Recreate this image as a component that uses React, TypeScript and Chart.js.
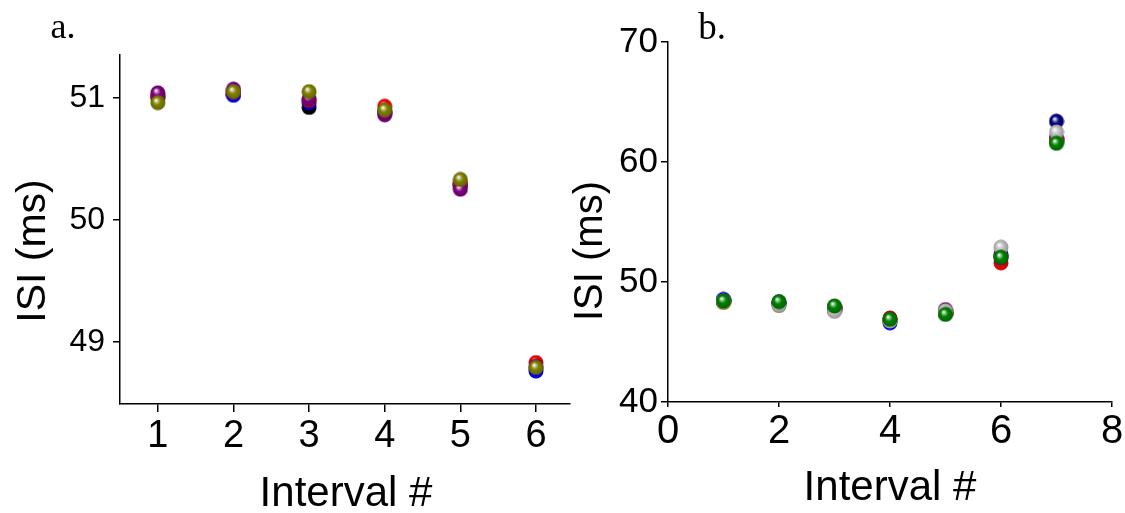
import React, { useEffect, useRef } from "react";
import { Chart, registerables } from "chart.js";
Chart.register(...registerables);

// ---------- Panel a data ----------
const intervalsA = [1, 2, 3, 4, 5, 6];
const blackA = [51.0, 51.03, 50.92, 50.88, 50.28, 48.78];
const blueA = [51.01, 51.02, 50.96, 50.88, 50.3, 48.76];
const redA = [51.02, 51.05, 50.98, 50.93, 50.29, 48.83];
const purpleA = [51.04, 51.07, 50.99, 50.86, 50.25, 48.8];
const oliveA = [50.96, 51.05, 51.05, 50.9, 50.33, 48.79];
const xTicksA = [1, 2, 3, 4, 5, 6];
const yTicksA = [49, 50, 51];

// ---------- Panel b data ----------
const intervalsB = [1, 2, 3, 4, 5, 6, 7];
const navyB = [48.5, 48.3, 47.9, 46.8, 47.5, 52.3, 63.4];
const blueB = [48.55, 48.3, 47.8, 46.6, 47.4, 52.2, 61.8];
const redB = [48.4, 48.2, 47.8, 47.0, 47.4, 51.6, 61.9];
const purpleB = [48.4, 48.2, 47.7, 46.9, 47.7, 52.0, 62.0];
const oliveB = [48.3, 48.05, 47.7, 46.8, 47.5, 52.1, 61.7];
const grayB = [48.4, 48.08, 47.55, 46.75, 47.6, 52.9, 62.5];
const greenB = [48.42, 48.36, 48.0, 46.9, 47.3, 52.06, 61.56];
const xTicksB = [0, 2, 4, 6, 8];
const yTicksB = [40, 50, 60, 70];

const panelLabelA = "a.";
const panelLabelB = "b.";
const xTitle = "Interval #";
const yTitle = "ISI (ms)";

const SANS = "'Liberation Sans', Arial, sans-serif";
const NARROW = "'Liberation Sans Narrow', 'Arial Narrow', 'Liberation Sans', sans-serif";
const SERIF = "'Liberation Serif', 'Times New Roman', serif";

const B_LEFT = 555;

function shade(hex: string, f: number) {
  const n = parseInt(hex.slice(1), 16);
  let r = (n >> 16) & 255, g = (n >> 8) & 255, b = n & 255;
  if (f >= 0) {
    r = r + (255 - r) * f; g = g + (255 - g) * f; b = b + (255 - b) * f;
  } else {
    r = r * (1 + f); g = g * (1 + f); b = b * (1 + f);
  }
  return `rgb(${Math.round(r)},${Math.round(g)},${Math.round(b)})`;
}

function sphere(color: string) {
  const c = document.createElement("canvas");
  c.width = 16;
  c.height = 16;
  const ctx = c.getContext("2d")!;
  const g = ctx.createRadialGradient(6, 5.5, 0.3, 8, 8, 8);
  g.addColorStop(0, "#ffffff");
  g.addColorStop(0.18, shade(color, 0.55));
  g.addColorStop(0.45, color);
  g.addColorStop(1, shade(color, -0.25));
  ctx.fillStyle = g;
  ctx.beginPath();
  ctx.arc(8, 8, 7.5, 0, Math.PI * 2);
  ctx.fill();
  return c;
}

// order: later entries in a panel's list are drawn on top
function makeDataset(xs: number[], ys: number[], color: string, drawIndex: number) {
  return {
    data: xs.map((x, i) => ({ x, y: ys[i] })),
    pointStyle: sphere(color),
    pointRadius: 8,
    showLine: false,
    borderColor: color,
    backgroundColor: color,
    order: 100 - drawIndex,
  };
}

type TextItem = { text: string; x: number; y: number; font: string; rotate?: boolean };

function textPlugin(items: TextItem[]) {
  return {
    id: "texts",
    afterDraw(chart: any) {
      const ctx = chart.ctx;
      ctx.save();
      ctx.fillStyle = "#000";
      for (const t of items) {
        ctx.save();
        ctx.font = t.font;
        ctx.textBaseline = "alphabetic";
        ctx.textAlign = "center";
        ctx.translate(t.x, t.y);
        if (t.rotate) ctx.rotate(-Math.PI / 2);
        ctx.fillText(t.text, 0, 0);
        ctx.restore();
      }
      ctx.restore();
    },
  };
}

function axisCfg(opts: {
  min: number;
  max: number;
  ticks: number[];
  size: number;
  isX: boolean;
  tickLength: number;
  padding: number;
  font: any;
}) {
  return {
    type: "linear",
    min: opts.min,
    max: opts.max,
    position: opts.isX ? "bottom" : "left",
    afterBuildTicks: (scale: any) => {
      scale.ticks = opts.ticks.map((v) => ({ value: v }));
    },
    afterFit: (scale: any) => {
      if (opts.isX) scale.height = opts.size;
      else scale.width = opts.size;
    },
    border: { display: true, color: "#000", width: 1.5 },
    grid: {
      drawOnChartArea: false,
      drawTicks: true,
      tickLength: opts.tickLength,
      color: "#000",
      lineWidth: 1.5,
    },
    ticks: {
      color: "#000",
      font: opts.font,
      padding: opts.padding,
      autoSkip: false,
      maxRotation: 0,
      minRotation: 0,
      callback: (v: any) => String(v),
    },
  };
}

function useChart(ref: React.RefObject<HTMLCanvasElement>, build: () => any) {
  useEffect(() => {
    if (!ref.current) return;
    const chart = new Chart(ref.current, build());
    return () => chart.destroy();
  }, []);
}

export default function App() {
  const refA = useRef<HTMLCanvasElement>(null);
  const refB = useRef<HTMLCanvasElement>(null);

  useChart(refA, () => ({
    type: "scatter",
    data: {
      datasets: [
        makeDataset(intervalsA, blackA, "#000000", 0),
        makeDataset(intervalsA, blueA, "#0000ff", 1),
        makeDataset(intervalsA, redA, "#ff0000", 2),
        makeDataset(intervalsA, purpleA, "#800080", 3),
        makeDataset(intervalsA, oliveA, "#808000", 4),
      ],
    },
    options: {
      responsive: false,
      animation: false,
      devicePixelRatio: 1,
      layout: { padding: { top: 55, right: 20, left: 0, bottom: 0 } },
      plugins: { legend: { display: false }, tooltip: { enabled: false } },
      scales: {
        x: axisCfg({
          min: 0.5, max: 6.45, ticks: xTicksA, size: 109, isX: true,
          tickLength: 8, padding: 2, font: { family: NARROW, size: 38 },
        }),
        y: axisCfg({
          min: 48.49, max: 51.35, ticks: yTicksA, size: 120, isX: false,
          tickLength: 7, padding: 8, font: { family: SANS, size: 32 },
        }),
      },
    },
    plugins: [
      textPlugin([
        { text: panelLabelA, x: 63, y: 38, font: `36px ${SERIF}` },
        { text: xTitle, x: 346, y: 506, font: `42px ${SANS}` },
        { text: yTitle, x: 45, y: 251, font: `41px ${SANS}`, rotate: true },
      ]),
    ],
  }));

  useChart(refB, () => ({
    type: "scatter",
    data: {
      datasets: [
        makeDataset(intervalsB, navyB, "#000080", 0),
        makeDataset(intervalsB, blueB, "#0000ff", 1),
        makeDataset(intervalsB, redB, "#ff0000", 2),
        makeDataset(intervalsB, purpleB, "#800080", 3),
        makeDataset(intervalsB, oliveB, "#808000", 4),
        makeDataset(intervalsB, grayB, "#c0c0c0", 5),
        makeDataset(intervalsB, greenB, "#008000", 6),
      ],
    },
    options: {
      responsive: false,
      animation: false,
      devicePixelRatio: 1,
      layout: { padding: { top: 42, right: 13, left: 0, bottom: 0 } },
      plugins: { legend: { display: false }, tooltip: { enabled: false } },
      scales: {
        x: axisCfg({
          min: 0, max: 8, ticks: xTicksB, size: 111, isX: true,
          tickLength: 5, padding: 1, font: { family: NARROW, size: 40 },
        }),
        y: axisCfg({
          min: 40, max: 70, ticks: yTicksB, size: 668 - B_LEFT, isX: false,
          tickLength: 7, padding: 3, font: { family: SANS, size: 35 },
        }),
      },
    },
    plugins: [
      textPlugin([
        { text: panelLabelB, x: 712 - B_LEFT, y: 39, font: `37px ${SERIF}` },
        { text: xTitle, x: 890 - B_LEFT, y: 500, font: `42px ${SANS}` },
        { text: yTitle, x: 602 - B_LEFT, y: 251, font: `40px ${SANS}`, rotate: true },
      ]),
    ],
  }));

  return (
    <div style={{ position: "absolute", left: 0, top: 0, width: 1125, height: 513, background: "#fff" }}>
      <canvas ref={refA} width={590} height={513} style={{ position: "absolute", left: 0, top: 0 }} />
      <canvas ref={refB} width={1125 - B_LEFT} height={513} style={{ position: "absolute", left: B_LEFT, top: 0 }} />
    </div>
  );
}
